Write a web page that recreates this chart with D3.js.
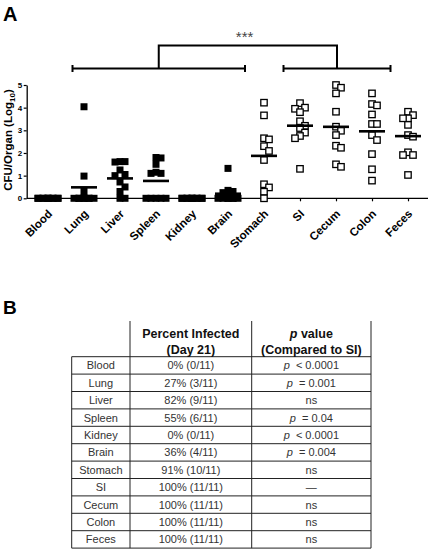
<!DOCTYPE html>
<html>
<head>
<meta charset="utf-8">
<script src="https://cdn.jsdelivr.net/npm/d3@7"></script>
<style>
  html, body { margin: 0; padding: 0; background: #fff; }
  svg { display: block; font-family: "Liberation Sans", Arial, sans-serif; }
</style>
</head>
<body>
<svg id="chart" width="430" height="553"></svg>
<script>
// ---------------- DATA ----------------
const organs = ["Blood", "Lung", "Liver", "Spleen", "Kidney", "Brain", "Stomach", "SI", "Cecum", "Colon", "Feces"];
const organGroup = ["systemic", "systemic", "systemic", "systemic", "systemic", "systemic", "gi", "gi", "gi", "gi", "gi"];

const blood   = [0, 0, 0, 0, 0, 0, 0, 0, 0, 0, 0];
const lung    = [4.04, 0.98, 0.3, 0, 0, 0, 0, 0, 0, 0, 0];
const liver   = [1.62, 1.62, 1.6, 1.25, 1.05, 1.0, 0.72, 0.5, 0.3, 0, 0];
const spleen  = [1.8, 1.78, 1.5, 1.15, 1.1, 1.1, 0, 0, 0, 0, 0];
const kidney  = [0, 0, 0, 0, 0, 0, 0, 0, 0, 0, 0];
const brain   = [1.32, 0.35, 0.3, 0.25, 0, 0, 0, 0, 0, 0, 0];
const stomach = [4.22, 3.66, 2.65, 2.6, 2.3, 2.09, 1.69, 0.62, 0.48, 0.29, 0];
const si      = [4.2, 4.0, 3.95, 3.8, 3.4, 3.2, 3.1, 2.9, 2.75, 2.65, 1.3];
const cecum   = [5.0, 4.88, 4.63, 3.82, 3.16, 2.98, 2.79, 2.32, 2.23, 1.5, 1.39];
const colon   = [4.63, 4.16, 4.10, 3.7, 3.28, 3.28, 2.79, 2.57, 1.95, 1.28, 0.78];
const feces   = [3.82, 3.67, 3.53, 3.53, 3.24, 2.79, 2.72, 2.03, 1.91, 1.91, 1.03];
const seriesValues = [blood, lung, liver, spleen, kidney, brain, stomach, si, cecum, colon, feces];

const yTicks = [0, 1, 2, 3, 4, 5];
const yLabel = "CFU/Organ (Log";
const yLabelSub = "10";
const significance = "***";
const bracketLeft = ["Lung", "Brain"];
const bracketRight = ["SI", "Colon"];

const tableHeader1 = ["Percent Infected", "(Day 21)"];
const tableHeader2 = ["value", "(Compared to SI)"];
const percentInfected = ["0% (0/11)", "27% (3/11)", "82% (9/11)", "55% (6/11)", "0% (0/11)", "36% (4/11)",
                         "91% (10/11)", "100% (11/11)", "100% (11/11)", "100% (11/11)", "100% (11/11)"];
const pValues = ["p < 0.0001", "p = 0.001", "ns", "p = 0.04", "p < 0.0001", "p = 0.004", "ns", "—", "ns", "ns", "ns"];

// ---------------- CHART ----------------
const svg = d3.select("#chart");

const x = d3.scalePoint().domain(organs).range([48, 408]);
const y = d3.scaleLinear().domain([0, 5]).range([198.3, 85]);
const axisLeftX = 26.7, axisRightX = 428;

// Panel labels
svg.append("text").attr("x", 3).attr("y", 21).attr("font-size", 20).attr("font-weight", "bold").text("A");
svg.append("text").attr("x", 3).attr("y", 314).attr("font-size", 19).attr("font-weight", "bold").text("B");

// Y axis
const yAxis = svg.append("g")
  .attr("transform", `translate(${axisLeftX},0)`)
  .call(d3.axisLeft(y).tickValues(yTicks).tickFormat(d3.format("d")).tickSize(3).tickPadding(1.5).tickSizeOuter(0));
yAxis.select(".domain").attr("stroke", "#000").attr("stroke-width", 1.3);
yAxis.selectAll(".tick line").attr("stroke", "#000").attr("stroke-width", 1.2);
yAxis.selectAll(".tick text").attr("font-size", 8).attr("font-weight", "bold").attr("fill", "#000")
  .attr("font-family", "Liberation Sans, Arial, sans-serif");

// X axis
const xAxis = svg.append("g")
  .attr("transform", `translate(0,${y(0)})`)
  .call(d3.axisBottom(x).tickSize(3).tickSizeOuter(0));
xAxis.select(".domain").remove();
xAxis.append("line").attr("x1", axisLeftX).attr("x2", axisRightX).attr("y1", 0).attr("y2", 0)
  .attr("stroke", "#000").attr("stroke-width", 1.3);
xAxis.selectAll(".tick line").attr("stroke", "#000").attr("stroke-width", 1.2);
xAxis.selectAll(".tick text")
  .attr("font-size", 11.5).attr("font-weight", "bold").attr("fill", "#000")
  .attr("font-family", "Liberation Sans, Arial, sans-serif")
  .attr("text-anchor", "end")
  .attr("dy", 0)
  .attr("y", 0)
  .attr("transform", "translate(4.5,16.2) rotate(-45)");

// Y label
const yl = svg.append("text")
  .attr("transform", "translate(11.5,140) rotate(-90)")
  .attr("text-anchor", "middle")
  .attr("font-size", 11.5).attr("font-weight", "bold");
yl.append("tspan").text(yLabel);
yl.append("tspan").attr("font-size", 8).attr("dy", 3).text(yLabelSub);
yl.append("tspan").attr("dy", -3).text(")");

// Points with simple beeswarm layout
const step = 5, collide = 4.5;
const points = [];
seriesValues.forEach((vals, gi) => {
  const placed = [];
  const sorted = vals.slice().sort((a, b) => b - a);
  sorted.forEach((v, i) => {
    const py = y(v);
    const cands = [0, step, -step, 2 * step, -2 * step];
    let best = null, bestCount = Infinity;
    for (const c of cands) {
      const cnt = placed.filter(p => Math.abs(p.dy - py) < 6 && Math.abs(p.dx - c) < collide).length;
      if (cnt < bestCount) { bestCount = cnt; best = c; }
      if (cnt === 0) break;
    }
    placed.push({ dx: best, dy: py });
    points.push({ organ: organs[gi], group: organGroup[gi], v, off: best });
  });
});

const fs = 7, os = 6.4;
svg.append("g").selectAll("rect")
  .data(points)
  .join("rect")
  .attr("x", d => x(d.organ) + d.off - (d.group === "systemic" ? fs : os) / 2)
  .attr("y", d => y(d.v) - (d.group === "systemic" ? fs : os) / 2)
  .attr("width", d => d.group === "systemic" ? fs : os)
  .attr("height", d => d.group === "systemic" ? fs : os)
  .attr("fill", d => d.group === "systemic" ? "#000" : "#fff")
  .attr("stroke", d => d.group === "systemic" ? "none" : "#000")
  .attr("stroke-width", 1.3);

// Mean lines
svg.append("g").selectAll("line")
  .data(organs)
  .join("line")
  .attr("x1", d => x(d) - 13).attr("x2", d => x(d) + 13)
  .attr("y1", (d, i) => y(d3.mean(seriesValues[i])))
  .attr("y2", (d, i) => y(d3.mean(seriesValues[i])))
  .attr("stroke", "#000").attr("stroke-width", 2.6);

// Brackets
const bY = 68.5, topY = 45.5, cap = 3.5;
const bl1 = x(bracketLeft[0]) - 11.5, bl2 = x(bracketLeft[1]) + 17;
const br1 = x(bracketRight[0]) - 16.5, br2 = x(bracketRight[1]) + 18.5;
const bg = svg.append("g").attr("stroke", "#000").attr("fill", "none");
bg.append("line").attr("x1", bl1).attr("x2", bl2).attr("y1", bY).attr("y2", bY).attr("stroke-width", 2);
bg.append("line").attr("x1", br1).attr("x2", br2).attr("y1", bY).attr("y2", bY).attr("stroke-width", 2);
[bl1, bl2, br1, br2].forEach(cx => {
  bg.append("line").attr("x1", cx).attr("x2", cx).attr("y1", bY - cap).attr("y2", bY + cap).attr("stroke-width", 2);
});
const c1 = (bl1 + bl2) / 2, c2 = (br1 + br2) / 2;
bg.append("path").attr("d", `M${c1},${bY} V${topY} H${c2} V${bY}`).attr("stroke-width", 2);
svg.append("text").attr("x", (c1 + c2) / 2 - 3.3).attr("y", 41.5).attr("text-anchor", "middle")
  .attr("font-size", 15).attr("fill", "#444").text(significance);

// ---------------- TABLE ----------------
const tL = 71.7, c1x = 130, c2x = 251.7, tR = 371, tTop = 321, hBot = 356.7, rowH = 17.4;
const rowY = d3.scaleBand().domain(organs).range([hBot, hBot + rowH * organs.length]).padding(0);
const tBot = hBot + rowH * organs.length;
const tg = svg.append("g").attr("stroke", "#222").attr("stroke-width", 1);
d3.range(organs.length + 1).forEach(k => {
  const yy = hBot + rowH * k;
  tg.append("line").attr("x1", tL).attr("x2", tR).attr("y1", yy).attr("y2", yy);
});
tg.append("line").attr("x1", tL).attr("x2", tL).attr("y1", hBot).attr("y2", tBot);
[c1x, c2x, tR].forEach(xx => tg.append("line").attr("x1", xx).attr("x2", xx).attr("y1", tTop).attr("y2", tBot));

// headers
const h1 = svg.append("g").attr("font-size", 12.5).attr("font-weight", "bold").attr("text-anchor", "middle").attr("fill", "#111");
h1.append("text").attr("x", (c1x + c2x) / 2).attr("y", 337.8).text(tableHeader1[0]);
h1.append("text").attr("x", (c1x + c2x) / 2).attr("y", 353.5).text(tableHeader1[1]);
const ph = h1.append("text").attr("x", (c2x + tR) / 2).attr("y", 337.8);
ph.append("tspan").attr("font-style", "italic").text("p");
ph.append("tspan").text("\u00a0" + tableHeader2[0]);
h1.append("text").attr("x", (c2x + tR) / 2).attr("y", 353.5).text(tableHeader2[1]);

// rows
const rg = svg.append("g").attr("font-size", 11).attr("fill", "#333").attr("text-anchor", "middle");
organs.forEach((o, i) => {
  const cy = rowY(o) + rowH / 2 + 4;
  rg.append("text").attr("x", (tL + c1x) / 2).attr("y", cy).text(o);
  rg.append("text").attr("x", (c1x + c2x) / 2).attr("y", cy).text(percentInfected[i]);
  const pv = pValues[i];
  const t = rg.append("text").attr("x", (c2x + tR) / 2).attr("y", cy);
  if (pv.startsWith("p ")) {
    t.append("tspan").attr("font-style", "italic").text("p");
    t.append("tspan").text("\u00a0\u00a0" + pv.slice(2));
  } else {
    t.text(pv);
  }
});
</script>
</body>
</html>
